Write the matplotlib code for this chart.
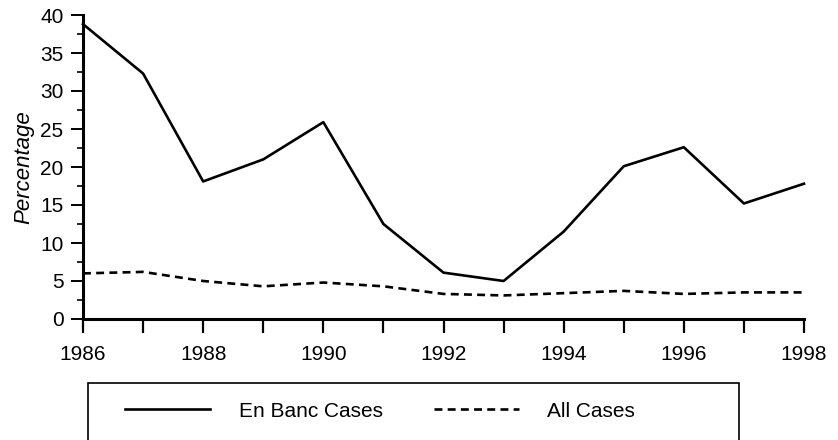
import matplotlib
matplotlib.use("Agg")
import matplotlib.pyplot as plt
import matplotlib.patches as patches
from matplotlib.ticker import MultipleLocator

plt.rcParams['font.family'] = ['Liberation Sans', 'DejaVu Sans']

# data
years = [1986, 1987, 1988, 1989, 1990, 1991, 1992, 1993, 1994, 1995, 1996, 1997, 1998]
en_banc = [38.8, 32.3, 18.1, 21.0, 25.9, 12.5, 6.1, 5.0, 11.5, 20.1, 22.6, 15.2, 17.8]
all_cases = [6.0, 6.2, 5.0, 4.3, 4.8, 4.3, 3.3, 3.1, 3.4, 3.7, 3.3, 3.5, 3.5]
series_names = ["En Banc Cases", "All Cases"]

W, H = 838, 440
fig = plt.figure(figsize=(W / 100, H / 100), dpi=100)
ax = fig.add_axes([83 / W, 1 - 319 / H, (804 - 83) / W, (319 - 15) / H])

ax.plot(years, en_banc, color='black', lw=1.9, clip_on=False, label=series_names[0])
ax.plot(years, all_cases, color='black', lw=1.9, ls=(0, (3, 2)), clip_on=False,
        label=series_names[1])

ax.set_xlim(1986, 1998)
ax.set_ylim(0, 40)

for s in ['top', 'right']:
    ax.spines[s].set_visible(False)
for s in ['left', 'bottom']:
    ax.spines[s].set_linewidth(2.2)

ax.xaxis.set_major_locator(MultipleLocator(2))
ax.xaxis.set_minor_locator(MultipleLocator(1))
ax.yaxis.set_major_locator(MultipleLocator(5))
ax.yaxis.set_minor_locator(MultipleLocator(2.5))
ax.tick_params(axis='x', which='both', direction='out', length=10, width=1.6,
               labelsize=15, pad=9)
ax.tick_params(axis='y', which='major', direction='out', length=9, width=1.4,
               labelsize=15, pad=5)
ax.tick_params(axis='y', which='minor', direction='out', length=4, width=1.2)

ax.set_ylabel("Percentage", fontsize=16, style='italic', labelpad=4)

# legend box below the plot (its bottom edge runs off the picture)
box = patches.Rectangle((88 / W, 1 - 445 / H), (739 - 88) / W, (445 - 383) / H,
                        transform=fig.transFigure, fill=False, edgecolor='black',
                        lw=1.2)
fig.add_artist(box)
handles, labels = ax.get_legend_handles_labels()
fig.legend(handles, labels, loc='center left', bbox_to_anchor=(125 / W, 1 - 411 / H),
           ncol=2, frameon=False, fontsize=15, handlelength=4.1, borderpad=0,
           borderaxespad=0, handletextpad=1.35, columnspacing=2.45)

fig.savefig("out.png", dpi=100)
